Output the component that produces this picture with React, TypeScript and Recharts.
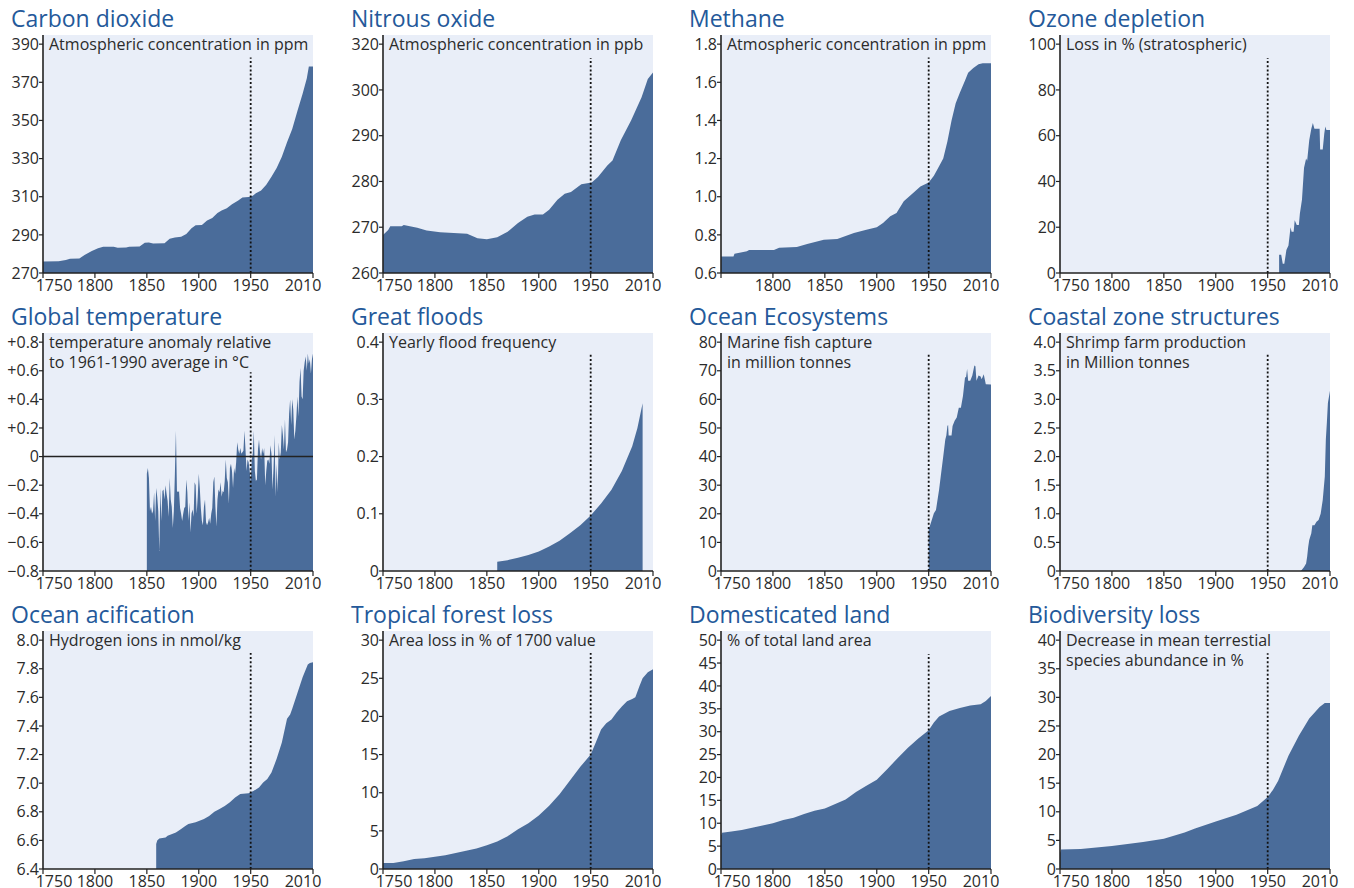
import { AreaChart, Area, XAxis, YAxis, CartesianGrid, ReferenceLine } from 'recharts';

const FONT = '"Open Sans", sans-serif';
const TITLE_BLUE = '#24599a';
const TEXT = '#2b2b2b';
const PLOT_BG = '#e9eef8';
const FILL = '#4a6c9a';
const AXIS = '#222';

// layout of the 4 x 3 grid (plot-area corners in page px)
const COL_X = [43, 383, 721, 1060];
const ROW_Y = [35, 333, 631];
const PLOT_W = 270;
const PLOT_H = 238;
const Y_AXIS_W = 43;
const TOP_PAD = 10;
const X_AXIS_H = 26;
const RIGHT_PAD = 28;

const YEAR_TICKS = [1750, 1800, 1850, 1900, 1950, 2010];

type Pt = [number, number];

const CO2_PPM: Pt[] = [
  [1750, 276], [1765, 276.2], [1772, 276.8], [1776, 277.5], [1785, 277.6], [1790, 279.5],
  [1797, 281.5], [1803, 283], [1808, 283.8], [1818, 283.8], [1822, 283.2], [1830, 283.4],
  [1833, 283.8], [1843, 283.9], [1848, 285.8], [1852, 286], [1856, 285.5], [1867, 285.6],
  [1872, 288], [1877, 288.6], [1883, 289], [1888, 290.5], [1893, 293.5], [1897, 295],
  [1903, 295.2], [1908, 297.5], [1913, 298.8], [1918, 301.5], [1922, 302.8], [1927, 304],
  [1932, 306], [1938, 308], [1942, 309.6], [1948, 309.8], [1952, 310.5], [1955, 311.8],
  [1960, 313.3], [1965, 316.3], [1970, 320.5], [1975, 325], [1980, 331], [1985, 338.5],
  [1990, 345.5], [1995, 355], [2000, 364], [2004, 372], [2006, 378.3], [2010, 378.3],
];

const N2O_PPB: Pt[] = [
  [1750, 268.3], [1755, 269.4], [1757, 270.2], [1768, 270.2], [1770, 270.5], [1783, 269.9],
  [1792, 269.3], [1805, 268.9], [1831, 268.6], [1841, 267.6], [1850, 267.4], [1860, 267.8],
  [1870, 269], [1880, 270.9], [1889, 272.3], [1896, 272.8], [1904, 272.8], [1910, 273.8],
  [1918, 276], [1925, 277.3], [1931, 277.7], [1941, 279.4], [1951, 279.8], [1957, 281],
  [1966, 283.5], [1971, 284.6], [1979, 289], [1989, 293.4], [1999, 298.4], [2005, 302.4],
  [2010, 303.8],
];
const N2O_TICK_LABELS = ['260', '270', '280', '290', '300', '320'];

const CH4_PPM: Pt[] = [
  [1750, 0.687], [1762, 0.687], [1763, 0.701], [1775, 0.714], [1777, 0.72], [1801, 0.72],
  [1806, 0.732], [1823, 0.736], [1833, 0.752], [1849, 0.775], [1862, 0.778], [1878, 0.81],
  [1890, 0.827], [1900, 0.84], [1906, 0.862], [1913, 0.897], [1919, 0.914], [1926, 0.976],
  [1935, 1.019], [1942, 1.054], [1950, 1.075], [1955, 1.11], [1960, 1.16], [1964, 1.2],
  [1968, 1.29], [1972, 1.4], [1976, 1.49], [1980, 1.545], [1985, 1.61], [1988, 1.65],
  [1993, 1.675], [1998, 1.695], [2002, 1.7], [2010, 1.7],
];

const OZONE_LOSS: Pt[] = [
  [1961, 8], [1963, 8], [1964.5, 4], [1966, 4], [1968, 10], [1970, 12], [1972, 20],
  [1973, 18], [1975, 18], [1976, 23], [1978, 21], [1980, 21], [1981, 26], [1983, 32],
  [1985, 46], [1987, 50], [1988, 49], [1990, 58], [1992, 63], [1993.5, 65.5], [1995, 63],
  [2000, 63], [2000.5, 54], [2003, 54], [2004.5, 61], [2005.5, 64], [2006.5, 62.5], [2010, 62.5],
];

// annual anomalies from 1850 onwards
const TEMP_START_YEAR = 1850;
const TEMP_ANOMALY = [
  -0.12, -0.08, -0.15, -0.38, -0.35, -0.40, -0.38, -0.25, -0.45, -0.22,
  -0.28, -0.38, -0.66, -0.22, -0.45, -0.24, -0.23, -0.30, -0.20, -0.26,
  -0.31, -0.42, -0.15, -0.30, -0.35, -0.50, -0.38, -0.12, 0.18, -0.24,
  -0.25, -0.24, -0.36, -0.40, -0.45, -0.40, -0.36, -0.35, -0.16, -0.25,
  -0.45, -0.32, -0.53, -0.40, -0.37, -0.42, -0.18, -0.20, -0.40, -0.28,
  -0.12, -0.22, -0.36, -0.45, -0.48, -0.35, -0.30, -0.46, -0.48, -0.46,
  -0.43, -0.47, -0.40, -0.36, -0.18, -0.14, -0.35, -0.49, -0.30, -0.23,
  -0.25, -0.18, -0.28, -0.24, -0.25, -0.17, -0.02, -0.15, -0.18, -0.33,
  -0.08, -0.05, -0.10, -0.22, -0.08, -0.12, -0.04, 0.10, 0.05, 0.02,
  0.06, 0.02, 0.03, 0.04, 0.18, 0.05, -0.10, -0.02, -0.04, -0.10,
  -0.18, -0.02, 0.02, 0.18, -0.10, -0.17, -0.16, 0.05, 0.12, 0.03,
  -0.02, 0.06, 0.02, 0.06, -0.20, -0.10, -0.03, -0.02, -0.05, 0.08,
  0.02, -0.23, -0.08, 0.15, -0.28, -0.05, -0.25, 0.10, -0.02, 0.03,
  0.22, 0.15, 0.05, 0.26, 0.03, 0.05, 0.10, 0.30, 0.40, 0.22,
  0.40, 0.33, 0.12, 0.18, 0.28, 0.42, 0.28, 0.52, 0.62, 0.42,
  0.40, 0.60, 0.66, 0.70, 0.60, 0.72, 0.65, 0.68, 0.58, 0.68,
  0.72,
];

const FLOOD_FREQ: Pt[] = [
  [1860, 0.016], [1870, 0.019], [1880, 0.023], [1890, 0.028], [1900, 0.034], [1910, 0.043],
  [1920, 0.053], [1930, 0.066], [1940, 0.08], [1950, 0.097], [1960, 0.118], [1970, 0.142],
  [1980, 0.175], [1990, 0.218], [1995, 0.25], [2000, 0.293],
];

const FISH_CAPTURE: Pt[] = [
  [1950, 14.5], [1952, 16.7], [1955, 20.2], [1957, 21.3], [1958, 23.7], [1960, 28.4],
  [1962, 34.3], [1964, 40], [1966, 46], [1967, 47.4], [1968, 50.7], [1968.7, 51],
  [1969.2, 47.4], [1972, 47.4], [1973, 50.7], [1975, 52.5], [1977, 53.7], [1979, 57.1],
  [1981, 57.1], [1983, 61.2], [1985, 67.7], [1986, 67.7], [1987, 70.6], [1988, 66.5],
  [1990, 66.5], [1992, 68.3], [1994, 71.8], [1995, 71.6], [1996, 66.5], [1998, 68.3],
  [2000, 68], [2001, 67], [2003, 68.8], [2005, 65.3], [2010, 65.2],
];

const SHRIMP_FARMS: Pt[] = [
  [1982, 0], [1985, 0.07], [1987, 0.13], [1988, 0.25], [1989, 0.42], [1990, 0.54],
  [1992, 0.66], [1993, 0.8], [1995, 0.8], [1997, 0.86], [1999, 0.89], [2001, 1.0],
  [2003, 1.24], [2005, 1.65], [2006, 2.3], [2007, 2.6], [2008, 2.94], [2010, 3.15],
];

const HYDROGEN_IONS: Pt[] = [
  [1859, 6.575], [1860, 6.6], [1862, 6.614], [1868, 6.62], [1870, 6.633], [1878, 6.656],
  [1883, 6.679], [1887, 6.7], [1890, 6.715], [1897, 6.726], [1905, 6.75], [1910, 6.77],
  [1915, 6.8], [1920, 6.82], [1925, 6.84], [1930, 6.866], [1935, 6.9], [1940, 6.924],
  [1948, 6.93], [1953, 6.947], [1958, 6.97], [1962, 7.005], [1966, 7.03], [1970, 7.075],
  [1975, 7.17], [1980, 7.285], [1985, 7.45], [1988, 7.48], [1990, 7.52], [1995, 7.63],
  [2000, 7.74], [2005, 7.83], [2007, 7.84], [2010, 7.845],
];

const FOREST_LOSS: Pt[] = [
  [1750, 0.8], [1760, 0.8], [1770, 1.0], [1780, 1.3], [1790, 1.4], [1800, 1.6], [1810, 1.8],
  [1820, 2.1], [1830, 2.4], [1840, 2.7], [1850, 3.1], [1860, 3.6], [1870, 4.3], [1880, 5.2],
  [1890, 6.0], [1900, 7.0], [1910, 8.3], [1920, 9.8], [1930, 11.6], [1940, 13.4], [1950, 15.0],
  [1955, 16.6], [1960, 18.3], [1965, 19.1], [1970, 19.6], [1975, 20.5], [1980, 21.3],
  [1985, 22.0], [1990, 22.3], [1993, 22.5], [1997, 24.0], [2000, 25.0], [2005, 25.8], [2010, 26.2],
];

const DOMESTICATED_LAND: Pt[] = [
  [1750, 7.3], [1751, 7.9], [1760, 8.2], [1770, 8.5], [1780, 9.0], [1790, 9.5], [1800, 10.0],
  [1810, 10.7], [1820, 11.2], [1830, 12.0], [1840, 12.7], [1850, 13.2], [1860, 14.2],
  [1870, 15.2], [1880, 16.8], [1890, 18.2], [1900, 19.5], [1910, 21.8], [1920, 24.2],
  [1930, 26.5], [1940, 28.5], [1950, 30.3], [1955, 32], [1960, 33.3], [1970, 34.5],
  [1980, 35.2], [1990, 35.7], [2000, 36.0], [2005, 36.7], [2010, 37.8],
];

const BIODIVERSITY_LOSS: Pt[] = [
  [1750, 2.8], [1751, 3.4], [1770, 3.5], [1800, 4.0], [1830, 4.7], [1850, 5.3], [1870, 6.4],
  [1880, 7.1], [1900, 8.3], [1920, 9.5], [1940, 11.0], [1950, 12.6], [1955, 13.8],
  [1960, 15.4], [1970, 19.8], [1980, 23.3], [1990, 26.3], [2000, 28.3], [2005, 29], [2010, 29],
];

const fixed1 = (v: number) => (v === 0 ? '0' : v.toFixed(1));
const signed = (v: number) => (v === 0 ? '0' : v > 0 ? `+${v.toFixed(1)}` : `\u2212${Math.abs(v).toFixed(1)}`);

interface PanelDef {
  title: string;
  note: string[];
  points: Pt[];
  yTicks: number[];
  yLabel?: (v: number, i: number) => string;
  dotTop: number;
  zeroLine?: boolean;
  hideFirstYear?: boolean;
}

const PANELS: PanelDef[] = [
  { title: 'Carbon dioxide', note: ['Atmospheric concentration in ppm'], points: CO2_PPM,
    yTicks: [270, 290, 310, 330, 350, 370, 390], dotTop: 383 },
  { title: 'Nitrous oxide', note: ['Atmospheric concentration in ppb'], points: N2O_PPB,
    yTicks: [260, 270, 280, 290, 300, 310], yLabel: (_v, i) => N2O_TICK_LABELS[i], dotTop: 307 },
  { title: 'Methane', note: ['Atmospheric concentration in ppm'], points: CH4_PPM,
    yTicks: [0.6, 0.8, 1.0, 1.2, 1.4, 1.6, 1.8], yLabel: fixed1, dotTop: 1.73, hideFirstYear: true },
  { title: 'Ozone depletion', note: ['Loss in % (stratospheric)'], points: OZONE_LOSS,
    yTicks: [0, 20, 40, 60, 80, 100], dotTop: 94 },
  { title: 'Global temperature', note: ['temperature anomaly relative', 'to 1961-1990 average in \u00b0C'],
    points: TEMP_ANOMALY.map((v, i) => [TEMP_START_YEAR + i, v] as Pt),
    yTicks: [-0.8, -0.6, -0.4, -0.2, 0, 0.2, 0.4, 0.6, 0.8], yLabel: signed, dotTop: 0.59, zeroLine: true },
  { title: 'Great floods', note: ['Yearly flood frequency'], points: FLOOD_FREQ,
    yTicks: [0, 0.1, 0.2, 0.3, 0.4], yLabel: fixed1, dotTop: 0.378 },
  { title: 'Ocean Ecosystems', note: ['Marine fish capture', 'in million tonnes'], points: FISH_CAPTURE,
    yTicks: [0, 10, 20, 30, 40, 50, 60, 70, 80], dotTop: 75.8 },
  { title: 'Coastal zone structures', note: ['Shrimp farm production', 'in Million tonnes'], points: SHRIMP_FARMS,
    yTicks: [0, 0.5, 1, 1.5, 2, 2.5, 3, 3.5, 4], yLabel: fixed1, dotTop: 3.78 },
  { title: 'Ocean acification', note: ['Hydrogen ions in nmol/kg'], points: HYDROGEN_IONS,
    yTicks: [6.4, 6.6, 6.8, 7.0, 7.2, 7.4, 7.6, 7.8, 8.0], yLabel: fixed1, dotTop: 7.91 },
  { title: 'Tropical forest loss', note: ['Area loss in % of 1700 value'], points: FOREST_LOSS,
    yTicks: [0, 5, 10, 15, 20, 25, 30], dotTop: 28.3 },
  { title: 'Domesticated land', note: ['% of total land area'], points: DOMESTICATED_LAND,
    yTicks: [0, 5, 10, 15, 20, 25, 30, 35, 40, 45, 50], dotTop: 47 },
  { title: 'Biodiversity loss', note: ['Decrease in mean terrestial', 'species abundance in %'], points: BIODIVERSITY_LOSS,
    yTicks: [0, 5, 10, 15, 20, 25, 30, 35, 40], dotTop: 37.7 },
];

const YearTick = (props: any) => {
  const { x, y, payload, hideFirstYear } = props;
  const year = payload.value;
  if (hideFirstYear && year === 1750) return <g />;
  // end labels are nudged inwards
  const shift = year === 1750 ? 11 : year === 2010 ? -10 : 0;
  return (
    <text x={x + shift} y={y} dy="0.71em" textAnchor="middle" fill={TEXT} fontSize={16} fontFamily={FONT}>
      {year}
    </text>
  );
};

function Panel({ def, index }: { def: PanelDef; index: number }) {
  const col = index % 4;
  const row = Math.floor(index / 4);
  const left = COL_X[col] - Y_AXIS_W;
  const top = ROW_Y[row] - TOP_PAD;
  const lo = def.yTicks[0];
  const hi = def.yTicks[def.yTicks.length - 1];
  const yMax = hi + (hi - lo) * 0.04;
  const data = def.points.map(([year, value]) => ({ year, value }));
  const fmt = def.yLabel ?? ((v: number) => String(v));

  return (
    <div style={{ position: 'absolute', left, top, width: Y_AXIS_W + PLOT_W + RIGHT_PAD, height: TOP_PAD + PLOT_H + X_AXIS_H }}>
      <AreaChart
        width={Y_AXIS_W + PLOT_W + RIGHT_PAD}
        height={TOP_PAD + PLOT_H + X_AXIS_H}
        data={data}
        margin={{ top: TOP_PAD, right: RIGHT_PAD, bottom: 0, left: 0 }}
      >
        <CartesianGrid fill={PLOT_BG} fillOpacity={1} horizontal={false} vertical={false} stroke="none" />
        <XAxis
          dataKey="year"
          type="number"
          domain={[1750, 2010]}
          ticks={YEAR_TICKS}
          interval={0}
          height={X_AXIS_H}
          tickSize={5}
          tickMargin={2}
          axisLine={{ stroke: AXIS, strokeWidth: 1.6 }}
          tickLine={{ stroke: AXIS, strokeWidth: 1.2 }}
          tick={(p: any) => <YearTick {...p} hideFirstYear={def.hideFirstYear} />}
        />
        <YAxis
          type="number"
          domain={[lo, yMax]}
          ticks={def.yTicks}
          interval={0}
          width={Y_AXIS_W}
          tickSize={4}
          tickMargin={0}
          axisLine={{ stroke: AXIS, strokeWidth: 1.6 }}
          tickLine={{ stroke: AXIS, strokeWidth: 1.2 }}
          tick={{ fill: TEXT, fontSize: 16, fontFamily: FONT }}
          tickFormatter={(v: number, i: number) => fmt(v, i)}
        />
        <Area
          type="linear"
          dataKey="value"
          stroke="none"
          fill={FILL}
          fillOpacity={1}
          baseValue="dataMin"
          dot={false}
          activeDot={false}
          isAnimationActive={false}
        />
        {def.zeroLine && <ReferenceLine y={0} stroke={AXIS} strokeWidth={1.5} />}
        <ReferenceLine
          segment={[{ x: 1950, y: lo }, { x: 1950, y: def.dotTop }]}
          stroke="#111"
          strokeWidth={1.8}
          strokeDasharray="2 2.2"
        />
      </AreaChart>
      <div
        style={{
          position: 'absolute', left: Y_AXIS_W - 32, top: TOP_PAD - 28, fontSize: 23, lineHeight: '23px',
          color: TITLE_BLUE, fontFamily: FONT, whiteSpace: 'nowrap',
        }}
      >
        {def.title}
      </div>
      <div
        style={{
          position: 'absolute', left: Y_AXIS_W + 6, top: TOP_PAD - 1.5, fontSize: 16, lineHeight: '20px',
          color: TEXT, fontFamily: FONT, whiteSpace: 'pre',
        }}
      >
        {def.note.join('\n')}
      </div>
    </div>
  );
}

export default function App() {
  return (
    <div style={{ position: 'absolute', left: 0, top: 0, width: 1354, height: 888, background: '#fff', overflow: 'hidden' }}>
      {PANELS.map((p, i) => (
        <Panel key={p.title} def={p} index={i} />
      ))}
    </div>
  );
}
